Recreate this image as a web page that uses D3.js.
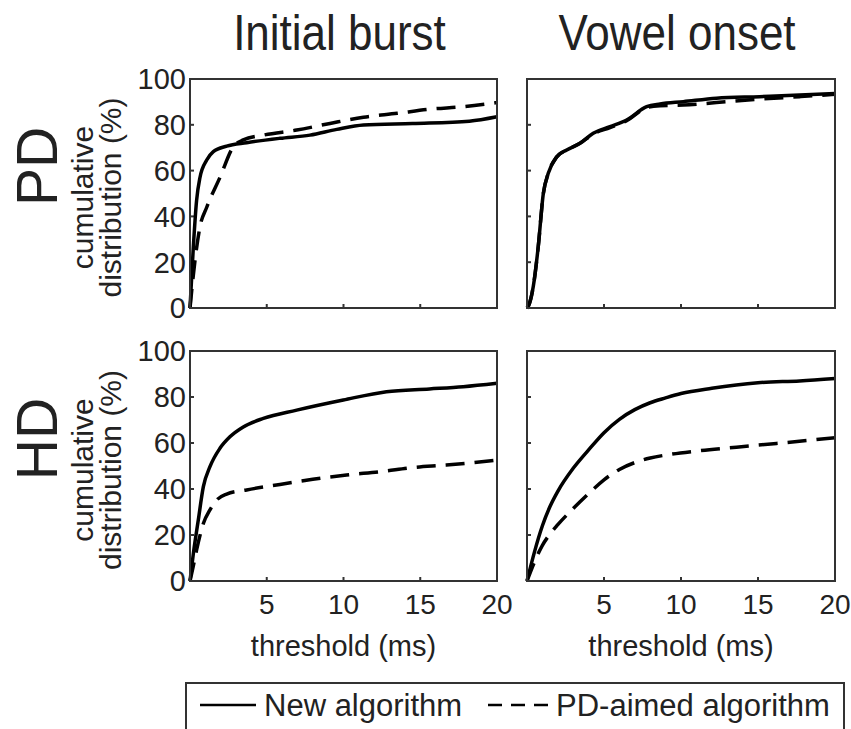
<!DOCTYPE html>
<html>
<head>
<meta charset="utf-8">
<script src="https://cdn.jsdelivr.net/npm/d3@7"></script>
<style>
  html, body { margin: 0; padding: 0; background: #fff; }
  svg { display: block; }
  text { font-family: "Liberation Sans", Arial, Helvetica, sans-serif; fill: #222; }
</style>
</head>
<body>
<svg id="chart" width="851" height="729"></svg>
<script>
// Cumulative distribution (%) of timing error vs. threshold (ms)
const columns = ["Initial burst", "Vowel onset"];
const rows = ["PD", "HD"];
const xTicks = [5, 10, 15, 20];
const yTicks = [0, 20, 40, 60, 80, 100];
const seriesNames = ["New algorithm", "PD-aimed algorithm"];

// [threshold ms, cumulative %]
const pdBurstNew = [[0,0],[0.22,27],[0.43,47],[0.65,57],[1.09,64.6],[1.52,68.3],[2.39,70.7],[3.69,72.2],[5.86,74.1],[7.82,75.5],[9.56,78],[11.3,79.9],[14.5,80.6],[18.2,81.6],[20,83.5]];
const pdBurstAimed = [[0,0],[0.33,21],[0.65,35.5],[1.09,44],[1.95,57],[2.82,70.4],[3.47,73.4],[4.78,75.5],[6.95,77.7],[9.12,80.6],[11.3,83.3],[13.5,85],[15.6,86.8],[17.8,87.9],[20,89.7]];
const pdVowelNew = [[0,0],[0.1,1],[0.41,9.5],[0.73,26.8],[1.06,50],[1.38,58.8],[1.93,66],[2.58,69],[3.44,71.9],[4.3,76.3],[5.39,79.2],[6.47,82.1],[7.77,87.9],[8.64,89.1],[10.15,90.1],[12.3,91.6],[15.1,92.3],[17.7,93],[20,93.7]];
const pdVowelAimed = [[0,0],[0.1,1],[0.41,9.5],[0.73,26.8],[1.06,50],[1.38,58.8],[1.93,66],[2.58,69],[3.44,71.9],[4.3,76],[5.39,78.8],[6.47,81.8],[7.77,87.5],[8.64,88.3],[10.15,88.6],[12.3,89.7],[15.1,91.2],[17.7,92.3],[20,93.3]];
const hdBurstNew = [[0,0],[0.22,12],[0.54,26.5],[0.87,41],[1.3,49.7],[1.95,57.7],[2.6,62.7],[3.47,67],[4.78,70.7],[6.95,74.3],[9.99,78.7],[12.8,82.3],[15.6,83.5],[17.8,84.5],[20,86]];
const hdBurstAimed = [[0,0],[0.2,6],[0.43,13.5],[0.87,25],[1.3,30.9],[1.74,35.2],[2.39,37.8],[3.69,39.6],[5.86,42],[8,44.2],[10.2,46.1],[12.4,47.5],[14.5,49.3],[16.7,50.4],[20,52.6]];
const hdVowelNew = [[0,0],[0.5,13],[1,24],[1.5,32.5],[2,39],[3,49],[4,57],[5,64.5],[6,70.3],[7,74.5],[8,77.5],[9,79.6],[10,81.5],[12,83.8],[15,86.2],[17.7,87],[20,88]];
const hdVowelAimed = [[0,0],[0.5,8.5],[1,15.5],[1.5,20.5],[2,24.5],[3,31.5],[4,38],[5,44],[6,48.5],[7,51.5],[8,53.5],[9.25,55],[11,56.5],[13.6,58.2],[16.2,59.8],[20,62.3]];

const panelData = [
  [[pdBurstNew, pdBurstAimed], [pdVowelNew, pdVowelAimed]],
  [[hdBurstNew, hdBurstAimed], [hdVowelNew, hdVowelAimed]]
];

const svg = d3.select("#chart");
const colX = [[190, 497], [527, 835]];
const rowY = [[79, 308], [351, 581]];
const axisColor = "#333";
const dashes = [null, "19,10"];

rows.forEach((rowName, r) => {
  columns.forEach((colName, c) => {
    const x = d3.scaleLinear().domain([0, 20]).range(colX[c]);
    const y = d3.scaleLinear().domain([0, 100]).range([rowY[r][1], rowY[r][0]]);
    const g = svg.append("g");

    // inward ticks
    g.selectAll("line.xt").data(xTicks.slice(0, 3)).join("line")
      .attr("x1", d => x(d)).attr("x2", d => x(d))
      .attr("y1", y(0)).attr("y2", y(0) - 4)
      .attr("stroke", axisColor).attr("stroke-width", 2);
    g.selectAll("line.yt").data(yTicks.slice(1, 5)).join("line")
      .attr("x1", x(0)).attr("x2", x(0) + 4)
      .attr("y1", d => y(d)).attr("y2", d => y(d))
      .attr("stroke", axisColor).attr("stroke-width", 2);

    const line = d3.line().x(d => x(d[0])).y(d => y(d[1])).curve(d3.curveMonotoneX);
    panelData[r][c].forEach((pts, s) => {
      g.append("path").datum(pts)
        .attr("d", line)
        .attr("fill", "none")
        .attr("stroke", "#000")
        .attr("stroke-width", 3.5)
        .attr("stroke-dasharray", dashes[s]);
    });

    // frame
    g.append("rect")
      .attr("x", x(0)).attr("y", y(100))
      .attr("width", x(20) - x(0)).attr("height", y(0) - y(100))
      .attr("fill", "none").attr("stroke", axisColor).attr("stroke-width", 2);

    if (c === 0) {
      g.selectAll("text.yl").data(yTicks).join("text")
        .attr("x", x(0) - 4).attr("y", d => y(d))
        .attr("dy", "0.36em")
        .attr("text-anchor", "end")
        .attr("font-size", 29)
        .text(d => d);
    }
    if (r === 1) {
      g.selectAll("text.xl").data(xTicks).join("text")
        .attr("x", d => x(d)).attr("y", 614)
        .attr("text-anchor", "middle")
        .attr("font-size", 28)
        .text(d => d);
      g.append("text")
        .attr("x", (colX[c][0] + colX[c][1]) / 2).attr("y", 656)
        .attr("text-anchor", "middle")
        .attr("font-size", 29)
        .text("threshold (ms)");
    }
    if (r === 0) {
      g.append("text")
        .attr("transform", `translate(${(colX[c][0] + colX[c][1]) / 2 - 4},50) scale(0.88,1)`)
        .attr("text-anchor", "middle")
        .attr("font-size", 50)
        .text(colName);
    }
  });

  const cy = (rowY[r][0] + rowY[r][1]) / 2;
  svg.append("text")
    .attr("transform", `translate(57,${cy - 27}) rotate(-90)`)
    .attr("text-anchor", "middle")
    .attr("font-size", 57)
    .text(rowName);
  svg.append("text")
    .attr("transform", `translate(93,${cy + 4}) rotate(-90)`)
    .attr("text-anchor", "middle")
    .attr("font-size", 30)
    .text("cumulative");
  svg.append("text")
    .attr("transform", `translate(121,${cy + 4}) rotate(-90)`)
    .attr("text-anchor", "middle")
    .attr("font-size", 30)
    .text("distribution (%)");
});

// legend
const lg = svg.append("g");
lg.append("rect")
  .attr("x", 186).attr("y", 683).attr("width", 658).attr("height", 80)
  .attr("fill", "none").attr("stroke", axisColor).attr("stroke-width", 2);
lg.append("line").attr("x1", 200).attr("x2", 256).attr("y1", 705).attr("y2", 705)
  .attr("stroke", "#000").attr("stroke-width", 2.5);
lg.append("text").attr("x", 264).attr("y", 716).attr("font-size", 31).text(seriesNames[0]);
lg.append("line").attr("x1", 488).attr("x2", 548).attr("y1", 705).attr("y2", 705)
  .attr("stroke", "#000").attr("stroke-width", 2.5).attr("stroke-dasharray", "14,9");
lg.append("text").attr("x", 556).attr("y", 716).attr("font-size", 31).text(seriesNames[1]);
</script>
</body>
</html>
